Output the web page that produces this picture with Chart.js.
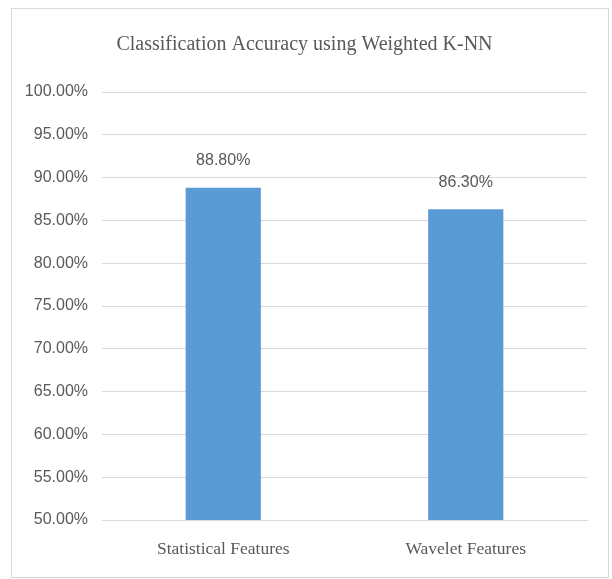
<!DOCTYPE html>
<html>
<head>
<meta charset="utf-8">
<title>Classification Accuracy using Weighted K-NN</title>
<script src="https://cdn.jsdelivr.net/npm/chart.js@4/dist/chart.umd.min.js"></script>
<style>
  html, body { margin: 0; padding: 0; background: #ffffff; }
  #wrap { position: relative; width: 612px; height: 579px; }
</style>
</head>
<body>
<div id="wrap"><canvas id="accuracyChart" width="612" height="579"></canvas></div>
<script>
window.onload = inicializar;

var categories = ["Statistical Features", "Wavelet Features"];
var accuracyValues = [88.8, 86.3];
var yTickValues = [50, 55, 60, 65, 70, 75, 80, 85, 90, 95, 100];
var chartTitle = "Classification Accuracy using Weighted K-NN";

var textGray = "#595959";
var gridGray = "#d9d9d9";
var barBlue = "#5b9bd5";

function formatPercent(v) {
  return v.toFixed(2) + "%";
}

// border around the whole chart, like the excel chart frame
var frameBorder = {
  id: "frameBorder",
  beforeDraw: function (chart) {
    var ctx = chart.ctx;
    ctx.save();
    ctx.fillStyle = "#ffffff";
    ctx.fillRect(0, 0, chart.width, chart.height);
    ctx.strokeStyle = gridGray;
    ctx.lineWidth = 1;
    ctx.strokeRect(11.5, 8.5, 597, 569);
    ctx.restore();
  }
};

// value labels above bars
var valueLabels = {
  id: "valueLabels",
  afterDatasetsDraw: function (chart) {
    var ctx = chart.ctx;
    var meta = chart.getDatasetMeta(0);
    ctx.save();
    ctx.font = "16px 'Liberation Sans'";
    ctx.fillStyle = textGray;
    ctx.textAlign = "center";
    ctx.textBaseline = "middle";
    for (var i = 0; i < meta.data.length; i++) {
      var bar = meta.data[i];
      ctx.fillText(formatPercent(accuracyValues[i]), bar.x, bar.y - 27);
    }
    ctx.restore();
  }
};

function inicializar() {
  var canvas = document.getElementById("accuracyChart");

  new Chart(canvas, {
    type: "bar",
    data: {
      labels: categories,
      datasets: [{
        data: accuracyValues,
        backgroundColor: barBlue,
        borderWidth: 0,
        barPercentage: 0.62,
        categoryPercentage: 0.5
      }]
    },
    options: {
      responsive: false,
      animation: false,
      layout: { padding: { left: 22, right: 25, top: 0, bottom: 0 } },
      plugins: {
        legend: { display: false },
        tooltip: { enabled: false },
        title: {
          display: true,
          text: chartTitle,
          color: textGray,
          font: { family: "'Liberation Serif'", size: 20, weight: "normal", lineHeight: 1.2 },
          padding: { top: 33, bottom: 35 }
        }
      },
      scales: {
        x: {
          grid: { display: false, drawTicks: false },
          border: { display: true, color: gridGray },
          ticks: {
            color: textGray,
            padding: 19,
            font: { family: "'Liberation Serif'", size: 17.5 }
          }
        },
        y: {
          min: 50,
          max: 100,
          afterFit: function (scale) { scale.width = 80; },
          afterBuildTicks: function (scale) {
            scale.ticks = yTickValues.map(function (v) { return { value: v }; });
          },
          grid: { color: gridGray, drawTicks: false },
          border: { display: false },
          ticks: {
            color: textGray,
            padding: 14,
            font: { family: "'Liberation Sans'", size: 16 },
            callback: function (v) { return formatPercent(v); }
          }
        }
      }
    },
    plugins: [frameBorder, valueLabels]
  });
}
</script>
</body>
</html>
